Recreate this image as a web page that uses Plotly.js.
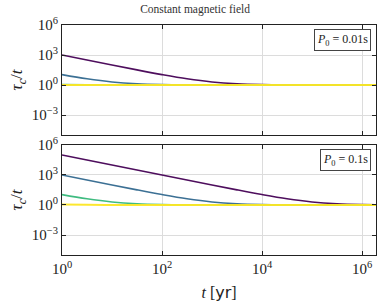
<!DOCTYPE html>
<html><head><meta charset="utf-8">
<script src="https://cdn.plot.ly/plotly-3.0.1.min.js"></script>
<style>body{margin:0}#plot{width:381px;height:303px}</style>
</head><body><div id="plot"></div>
<script>
// time grid [yr]
var tYears = [1, 3.16, 10, 31.6, 100, 316, 1000, 3160, 10000, 31600, 100000, 316000, 1000000, 2000000];
// P0 = 0.01 s panel: tau_c / t
var top_purple = [1001, 317, 101, 32.6, 11, 4.16, 2.0, 1.32, 1.1, 1.03, 1.01, 1.003, 1.001, 1.0];
var top_blue   = [11, 4.16, 2.0, 1.32, 1.1, 1.03, 1.01, 1.003, 1.0, 1.0, 1.0, 1.0, 1.0, 1.0];
var top_green  = [1.1, 1.03, 1.01, 1.003, 1.0, 1.0, 1.0, 1.0, 1.0, 1.0, 1.0, 1.0, 1.0, 1.0];
var top_yellow = [1.001, 1.0, 1.0, 1.0, 1.0, 1.0, 1.0, 1.0, 1.0, 1.0, 1.0, 1.0, 1.0, 1.0];
// P0 = 0.1 s panel
var bot_purple = [100000, 31600, 10000, 3163, 1001, 317, 101, 32.6, 11, 4.16, 2.0, 1.32, 1.1, 1.05];
var bot_blue   = [1001, 317, 101, 32.6, 11, 4.16, 2.0, 1.32, 1.1, 1.03, 1.01, 1.003, 1.001, 1.0];
var bot_green  = [11, 4.16, 2.0, 1.32, 1.1, 1.03, 1.01, 1.003, 1.0, 1.0, 1.0, 1.0, 1.0, 1.0];
var bot_yellow = [1.1, 1.03, 1.01, 1.003, 1.0, 1.0, 1.0, 1.0, 1.0, 1.0, 1.0, 1.0, 1.0, 1.0];
var colors = ['#440154', '#31688e', '#35b779', '#fde725'];
var panelLabels = ['<i>P</i><sub>0</sub> = 0.01s', '<i>P</i><sub>0</sub> = 0.1s'];
var xTicks = [1, 100, 10000, 1000000];
var xTickText = ['10<sup>0</sup>', '10<sup>2</sup>', '10<sup>4</sup>', '10<sup>6</sup>'];
var yTicks = [0.001, 1, 1000, 1000000];
var yTickText = ['10<sup>−3</sup>', '10<sup>0</sup>', '10<sup>3</sup>', '10<sup>6</sup>'];

var serif = 'Liberation Serif, DejaVu Serif, serif';
var traces = [];
function addSet(sets, xa, ya) {
  sets.forEach(function (s, i) {
    traces.push({x: tYears, y: s, xaxis: xa, yaxis: ya, mode: 'lines',
      line: {color: colors[i], width: i === 3 ? 2 : 1.6, shape: 'spline'},
      opacity: 0.95, showlegend: false, hoverinfo: 'skip'});
  });
}
addSet([top_purple, top_blue, top_green, top_yellow], 'x2', 'y2');
addSet([bot_purple, bot_blue, bot_green, bot_yellow], 'x', 'y');

function xax(extra) {
  return Object.assign({type: 'log', range: [0, 6.28], tickvals: xTicks, ticktext: xTickText,
    tickmode: 'array', showline: true, linecolor: '#222', linewidth: 1,
    mirror: 'allticks', ticks: 'inside', ticklen: 4, tickcolor: '#222',
    gridcolor: '#dcdcdc', gridwidth: 1, zeroline: false,
    tickfont: {family: serif, size: 15, color: '#222'}}, extra);
}
function yax(extra) {
  return Object.assign({type: 'log', range: [-5, 6], tickvals: yTicks, ticktext: yTickText,
    tickmode: 'array', showline: true, linecolor: '#222', linewidth: 1,
    mirror: 'allticks', ticks: 'inside', ticklen: 4, tickcolor: '#222',
    gridcolor: '#dcdcdc', gridwidth: 1, zeroline: false,
    tickfont: {family: serif, size: 15, color: '#222'},
    title: {text: '<i>τ<sub>c</sub></i>/<i>t</i>', font: {family: serif, size: 17, color: '#222'}, standoff: 4}}, extra);
}

var layout = {
  width: 381, height: 303,
  margin: {l: 62, r: 5, t: 25, b: 48},
  paper_bgcolor: 'white', plot_bgcolor: 'white',
  title: {text: 'Constant magnetic field', font: {family: serif, size: 11.5, color: '#333'},
    x: 0.512, xref: 'container', xanchor: 'center', y: 0.97, yanchor: 'middle'},
  xaxis: xax({anchor: 'y', domain: [0, 1],
    title: {text: '<i>t</i> [<span style="font-family:DejaVu Sans">yr</span>]', font: {family: serif, size: 16, color: '#222'}, standoff: 10}}),
  yaxis: yax({anchor: 'x', domain: [0, 0.4783]}),
  xaxis2: xax({anchor: 'y2', domain: [0, 1], matches: 'x', showticklabels: false}),
  yaxis2: yax({anchor: 'x2', domain: [0.5217, 1]}),
  annotations: [
    {text: panelLabels[0], xref: 'x2 domain', yref: 'y2 domain', x: 0.985, y: 0.96,
     xanchor: 'right', yanchor: 'top', showarrow: false,
     font: {family: serif, size: 12, color: '#222'}, bordercolor: '#444', borderwidth: 1, borderpad: 2, bgcolor: 'white'},
    {text: panelLabels[1], xref: 'x domain', yref: 'y domain', x: 0.985, y: 0.96,
     xanchor: 'right', yanchor: 'top', showarrow: false,
     font: {family: serif, size: 12, color: '#222'}, bordercolor: '#444', borderwidth: 1, borderpad: 2, bgcolor: 'white'}
  ]
};
Plotly.newPlot('plot', traces, layout, {displayModeBar: false, staticPlot: true});
</script>
</body></html>
